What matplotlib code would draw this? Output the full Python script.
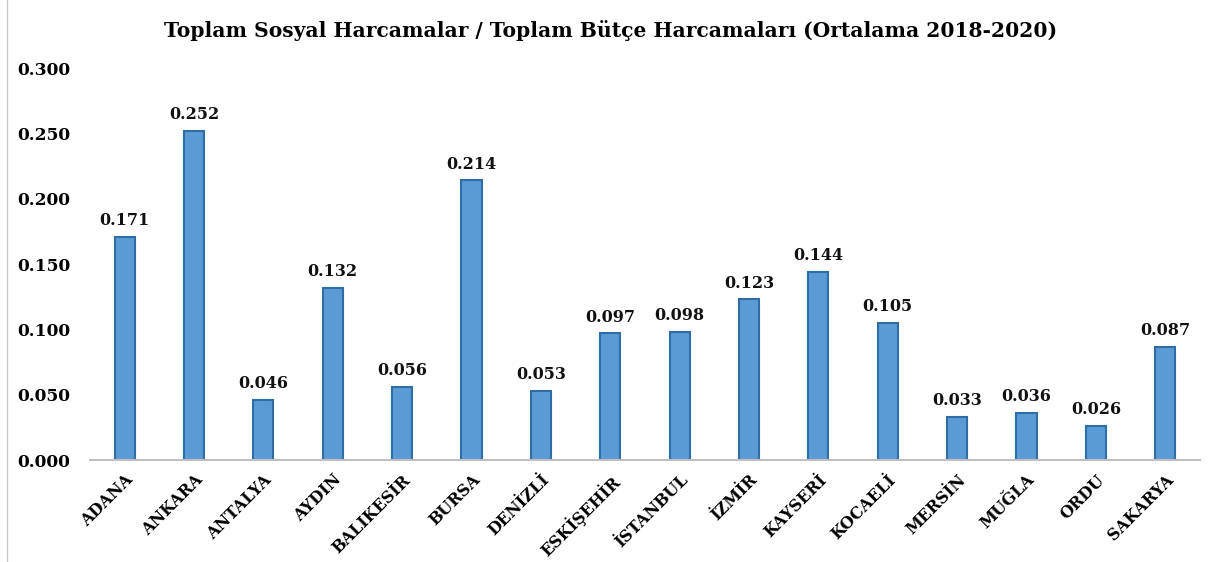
import matplotlib
matplotlib.use("Agg")
import matplotlib.pyplot as plt
from matplotlib.lines import Line2D

categories = ["ADANA", "ANKARA", "ANTALYA", "AYDIN", "BALIKESİR", "BURSA", "DENİZLİ",
              "ESKİŞEHİR", "İSTANBUL", "İZMİR", "KAYSERİ", "KOCAELİ", "MERSİN",
              "MUĞLA", "ORDU", "SAKARYA"]
values = [0.171, 0.252, 0.046, 0.132, 0.056, 0.214, 0.053, 0.097, 0.098, 0.123,
          0.144, 0.105, 0.033, 0.036, 0.026, 0.087]
yticks = [0.000, 0.050, 0.100, 0.150, 0.200, 0.250, 0.300]
title = "Toplam Sosyal Harcamalar / Toplam Bütçe Harcamaları (Ortalama 2018-2020)"

plt.rcParams['font.family'] = ['DejaVu Serif', 'Liberation Serif']

fig = plt.figure(figsize=(12.21, 5.62), dpi=100)
ax = fig.add_axes([0.0737, 0.181, 0.909, 0.698])

x = list(range(len(categories)))
ax.bar(x, values, width=0.29, color="#5B9BD5", edgecolor="#2F6DA8", linewidth=1.5, zorder=2)
for xi, v in zip(x, values):
    ax.text(xi, v + 0.006, f"{v:.3f}", ha="center", va="bottom",
            fontsize=11.5, fontweight="bold", color="#111111")

ax.set_xlim(-0.5, len(categories) - 0.5)
ax.set_ylim(0, 0.3)
ax.set_yticks(yticks)
ax.set_yticklabels([f"{t:.3f}" for t in yticks], fontsize=12.3, fontweight="bold")
ax.set_xticks(x)
ax.set_xticklabels(categories, rotation=45, ha="right", rotation_mode="anchor",
                   fontsize=11.5, fontweight="bold")
ax.tick_params(axis="both", length=0, pad=8)
ax.tick_params(axis="y", pad=14)
for s in ["top", "right", "left"]:
    ax.spines[s].set_visible(False)
ax.spines["bottom"].set_color("#BFBFBF")
ax.spines["bottom"].set_linewidth(1.5)

fig.text(0.5, 0.945, title, ha="center", va="center", fontsize=14.6, fontweight="bold")
fig.add_artist(Line2D([0.006, 0.006], [0.0, 1.0], transform=fig.transFigure,
                      color="#C8C8C8", linewidth=1))

fig.savefig("out.png", dpi=100)
